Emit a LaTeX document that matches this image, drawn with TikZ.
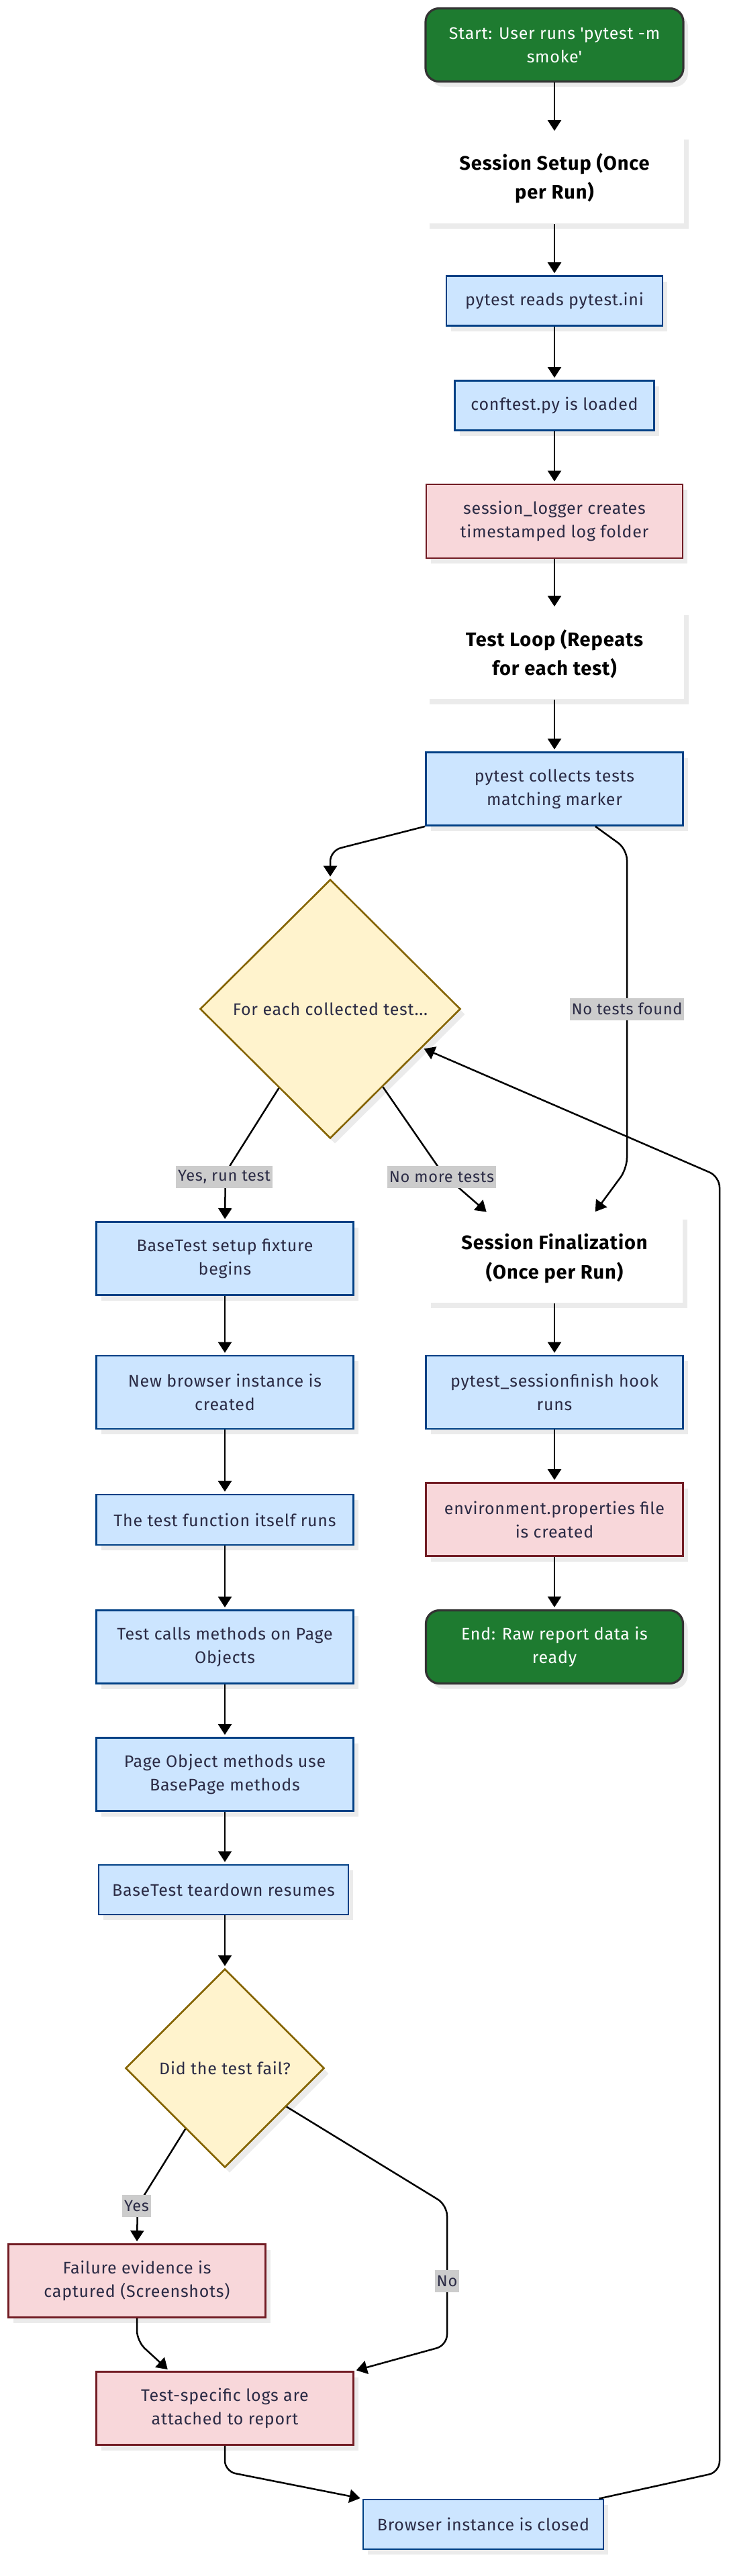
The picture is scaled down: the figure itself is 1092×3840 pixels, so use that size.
\documentclass[tikz,border=0pt]{standalone}
\usepackage{fontspec}
\setmainfont{Fira Sans}[LetterSpace=3]
\usetikzlibrary{shapes.geometric,arrows.meta,shadows}
\definecolor{bluefill}{HTML}{CCE5FF}
\definecolor{blueline}{HTML}{004085}
\definecolor{pinkfill}{HTML}{F8D7DA}
\definecolor{pinkline}{HTML}{721C24}
\definecolor{yelfill}{HTML}{FFF3CD}
\definecolor{yelline}{HTML}{856404}
\definecolor{greenfill}{HTML}{1E7B30}
\definecolor{greenline}{HTML}{333333}
\definecolor{lblgray}{HTML}{CCCCCC}
\definecolor{shadowgray}{HTML}{EBEBEB}
\definecolor{nodetext}{HTML}{2B2B45}
\begin{document}
\begin{tikzpicture}[x=0.5pt,y=-0.5pt,
  shadowed/.style={drop shadow={shadow xshift=3.5pt,shadow yshift=-4pt,fill=shadowgray,opacity=1}},
  boxbase/.style={rectangle, shadowed, line width=1.4pt, align=center, inner sep=0pt, text=nodetext, font=\fontsize{12.5}{17.5}\selectfont},
  bluebox/.style={boxbase, fill=bluefill, draw=blueline},
  pinkbox/.style={boxbase, fill=pinkfill, draw=pinkline},
  wide/.style={minimum width=191.5pt, minimum height=54.5pt},
  termbox/.style={boxbase, rounded corners=10pt, fill=greenfill, draw=greenline, line width=1.6pt, text=white},
  headbox/.style={boxbase, fill=white, draw=none, text=black, font=\fontsize{14.5}{21.75}\selectfont\bfseries, minimum width=193pt, minimum height=66.5pt},
  decision/.style={diamond, shadowed, fill=yelfill, draw=yelline, line width=1.3pt, align=center, inner sep=0pt, text=nodetext, font=\fontsize{12.5}{17.5}\selectfont},
  flow/.style={line width=1.25pt, -{Triangle[width=10pt,length=8pt]}, rounded corners=8pt, shorten >=1.5pt},
  elabel/.style={fill=lblgray, text=nodetext, font=\fontsize{11.8}{17.5}\selectfont, inner xsep=1.5pt, inner ysep=0pt, minimum height=16.5pt}
]
\useasboundingbox (0,0) rectangle (1092,3840);

% right column, top
\node[termbox, minimum width=192pt, minimum height=54.5pt] (start) at (826,67) {Start: User runs \textquotesingle pytest -m\\smoke\textquotesingle};
\node[headbox] (setup) at (826,266) {Session Setup (Once\\per Run)};
\node[bluebox, minimum width=161pt, minimum height=37pt] (ini) at (826,448.6) {pytest reads pytest.ini};
\node[bluebox, minimum width=148.5pt, minimum height=37pt] (conf) at (826,604.5) {conftest.py is loaded};
\node[pinkbox, minimum width=191pt, minimum height=55pt] (logger) at (826,777) {session\_logger creates\\timestamped log folder};
\node[headbox] (loop) at (826,975) {Test Loop (Repeats\\for each test)};
\node[bluebox, wide] (collect) at (826,1176) {pytest collects tests\\matching marker};
\node[decision, minimum width=194pt, minimum height=193pt] (d1) at (492,1504) {For each collected test...};

% left column
\node[bluebox, wide] (fixture) at (335,1876) {BaseTest setup fixture\\begins};
\node[bluebox, wide] (newb) at (335,2075.5) {New browser instance is\\created};
\node[bluebox, minimum width=191.5pt, minimum height=37.5pt] (tfn) at (335,2265.5) {The test function itself runs};
\node[bluebox, wide] (calls) at (335,2455) {Test calls methods on Page\\Objects};
\node[bluebox, wide] (pobj) at (335,2645) {Page Object methods use\\BasePage methods};
\node[bluebox, minimum width=186pt, minimum height=37pt] (tear) at (333,2817) {BaseTest teardown resumes};
\node[decision, minimum width=148pt, minimum height=148pt] (d2) at (335,3083) {Did the test fail?};
\node[pinkbox, wide] (fail) at (204,3400) {Failure evidence is\\captured (Screenshots)};
\node[pinkbox, wide] (logs) at (335,3590) {Test-specific logs are\\attached to report};
\node[bluebox, minimum width=179pt, minimum height=37pt] (closed) at (720,3763) {Browser instance is closed};

% right column, bottom
\node[headbox, minimum width=191pt, minimum height=66pt] (final) at (826,1876) {Session Finalization\\(Once per Run)};
\node[bluebox, wide] (sfin) at (826,2075.5) {pytest\_sessionfinish hook\\runs};
\node[pinkbox, wide] (env) at (826,2265) {environment.properties file\\is created};
\node[termbox, wide] (end) at (826,2455) {End: Raw report data is\\ready};

% connectors
\draw[flow] (start) -- (setup);
\draw[flow] (setup) -- (ini);
\draw[flow] (ini) -- (conf);
\draw[flow] (conf) -- (logger);
\draw[flow] (logger) -- (loop);
\draw[flow] (loop) -- (collect);
\draw[flow] (collect.south west) -- (492,1268) -- (d1.north);
\draw[flow] ([xshift=30.5pt]collect.south) -- (934,1266) -- (934,1742) -- ([xshift=29.5pt]final.north);
\draw[flow] (d1.237.8) -- (336,1748) -- (fixture.north);
\draw[flow] (d1.-56.3) -- (660,1750) -- ([xshift=-49.5pt]final.north);
\draw[flow] (fixture) -- (newb);
\draw[flow] (newb) -- (tfn);
\draw[flow] (tfn) -- (calls);
\draw[flow] (calls) -- (pobj);
\draw[flow] (pobj) -- (tear.north -| pobj.south);
\draw[flow] (tear.south -| d2.north) -- (d2.north);
\draw[flow] (final) -- (sfin);
\draw[flow] (sfin) -- (env);
\draw[flow] (env) -- (end);
\draw[flow] (d2.237.6) -- (205,3288) -- (fail.north);
\draw[flow] (d2.-32.6) -- (666,3287) -- (666,3496) -- (logs.north east);
\draw[flow] (fail.south) -- (204,3490) -- ([xshift=-41.5pt]logs.north);
\draw[flow] (logs.south) -- (335,3684) -- (closed.north west);
\draw[flow] ([xshift=-4pt]closed.north east) -- (1072,3685) -- (1072,1754) -- (d1.-23.6);

% edge labels
\node[elabel] (lnotests) at (934,1504) {No tests found};
\node[elabel] (lyesrun) at (334,1754) {Yes, run test};
\node[elabel] (lnomore) at (658,1754) {No more tests};
\node[elabel] (lyes) at (203.5,3288) {Yes};
\node[elabel] (lno) at (666,3400) {No};
\end{tikzpicture}
\end{document}
